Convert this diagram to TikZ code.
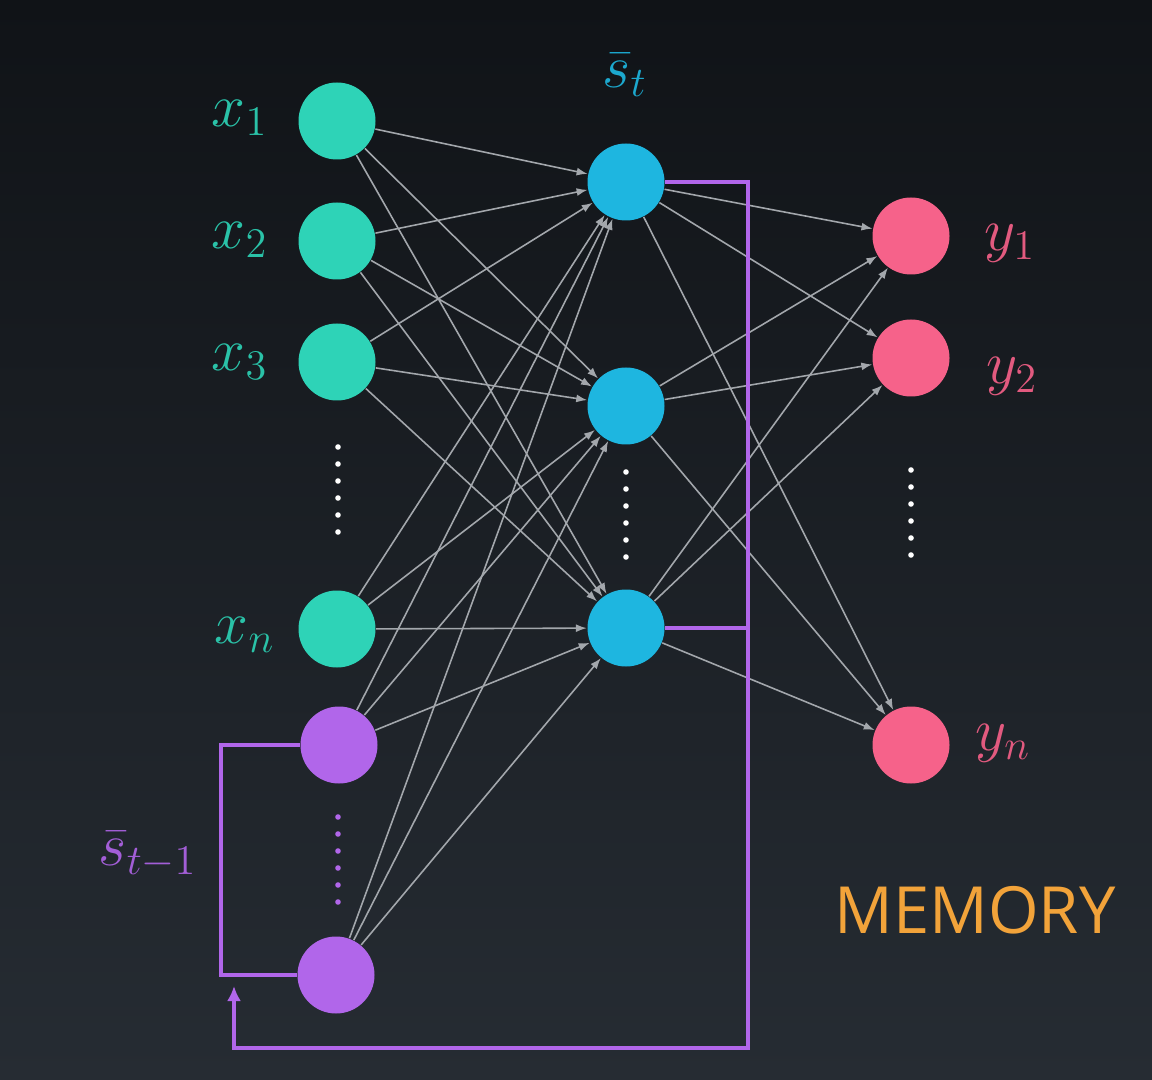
\documentclass[tikz,border=0pt]{standalone}
\usepackage{fontspec}
\newfontfamily\memfont{Open Sans}
\usetikzlibrary{arrows.meta,positioning}
\definecolor{bgtop}{HTML}{101317}
\definecolor{bgbot}{HTML}{262C33}
\definecolor{ingreen}{HTML}{2ED3B7}
\definecolor{hidblue}{HTML}{1EB6E0}
\definecolor{outpink}{HTML}{F6628A}
\definecolor{mempurple}{HTML}{B166EA}
\definecolor{memorange}{HTML}{F2A33A}
\definecolor{wire}{HTML}{A3A7AC}
\tikzset{
  inunit/.style={circle,fill=ingreen,minimum size=0.77cm,inner sep=0pt},
  hidunit/.style={circle,fill=hidblue,minimum size=0.77cm,inner sep=0pt},
  outunit/.style={circle,fill=outpink,minimum size=0.77cm,inner sep=0pt},
  memunit/.style={circle,fill=mempurple,minimum size=0.77cm,inner sep=0pt},
  unitlabel/.style={font=\fontsize{17}{20}\selectfont},
  wirear/.style={-{Latex[length=1.1mm,width=0.8mm]},line width=0.45pt,draw=wire},
  loopline/.style={line width=1.15pt,draw=mempurple},
  looparrow/.style={-{Latex[length=1.5mm,width=1.4mm]},line width=1.15pt,draw=mempurple}
}

\begin{document}
\begin{tikzpicture}
  \fill[top color=bgtop,bottom color=bgbot] (0,0) rectangle (11.52,-10.8);
  \useasboundingbox (0,0) rectangle (11.52,-10.8);

  % units
  \node[inunit]  (x1) at (3.37, -1.21) {};
  \node[inunit]  (x2) at (3.37, -2.41) {};
  \node[inunit]  (x3) at (3.37, -3.62) {};
  \node[inunit]  (xn) at (3.37, -6.29) {};
  \node[memunit] (m1) at (3.39, -7.45) {};
  \node[memunit] (m2) at (3.36, -9.75) {};

  \node[hidunit] (s1) at (6.26, -1.82) {};
  \node[hidunit] (s2) at (6.26, -4.06) {};
  \node[hidunit] (s3) at (6.26, -6.28) {};

  \node[outunit] (y1) at (9.11, -2.36) {};
  \node[outunit] (y2) at (9.11, -3.58) {};
  \node[outunit] (yn) at (9.11, -7.45) {};

  % labels
  \node[unitlabel,text=ingreen!92!black]    (lx1) at (2.40, -1.18) {$x_1$};
  \node[unitlabel,text=ingreen!92!black]    (lx2) at (2.40, -2.40) {$x_2$};
  \node[unitlabel,text=ingreen!92!black]    (lx3) at (2.40, -3.62) {$x_3$};
  \node[unitlabel,text=ingreen!92!black]    (lxn) at (2.45, -6.35) {$x_n$};
  \node[unitlabel,text=hidblue!92!black]    (lst) at (6.25, -0.75) {$\bar{s}_t$};
  \node[unitlabel,text=outpink!92!black]    (ly1) at (10.10, -2.43) {$y_1$};
  \node[unitlabel,text=outpink!92!black]    (ly2) at (10.12, -3.76) {$y_2$};
  \node[unitlabel,text=outpink!92!black]    (lyn) at (10.03, -7.43) {$y_n$};
  \node[unitlabel,text=mempurple!92!black]  (lsp) at (1.48, -8.55) {$\bar{s}_{t-1}$};
  \node[font=\memfont\fontsize{18.5}{22}\selectfont,text=memorange] (mem) at (9.75, -9.10) {MEMORY};

  % dots
  \foreach \k in {0,...,5} {
    \fill[white] (3.38, -4.47-0.17*\k) circle (0.028);
    \fill[white] (6.26, -4.72-0.17*\k) circle (0.028);
    \fill[white] (9.11, -4.70-0.17*\k) circle (0.028);
    \fill[mempurple] (3.38, -8.17-0.17*\k) circle (0.028);
  }

  % input to hidden
  \draw[wirear] (x1) -- (s1);
  \draw[wirear] (x1) -- (s2);
  \draw[wirear] (x1) -- (s3);
  \draw[wirear] (x2) -- (s1);
  \draw[wirear] (x2) -- (s2);
  \draw[wirear] (x2) -- (s3);
  \draw[wirear] (x3) -- (s1);
  \draw[wirear] (x3) -- (s2);
  \draw[wirear] (x3) -- (s3);
  \draw[wirear] (xn) -- (s1);
  \draw[wirear] (xn) -- (s2);
  \draw[wirear] (xn) -- (s3);
  \draw[wirear] (m1) -- (s1);
  \draw[wirear] (m1) -- (s2);
  \draw[wirear] (m1) -- (s3);
  \draw[wirear] (m2) -- (s1);
  \draw[wirear] (m2) -- (s2);
  \draw[wirear] (m2) -- (s3);

  % hidden to output
  \draw[wirear] (s1) -- (y1);
  \draw[wirear] (s1) -- (y2);
  \draw[wirear] (s1) -- (yn);
  \draw[wirear] (s2) -- (y1);
  \draw[wirear] (s2) -- (y2);
  \draw[wirear] (s2) -- (yn);
  \draw[wirear] (s3) -- (y1);
  \draw[wirear] (s3) -- (y2);
  \draw[wirear] (s3) -- (yn);

  % memory feedback
  \coordinate (fbcorner) at (7.48, -10.48);
  \coordinate (fbend)    at (2.34, -9.86);
  \draw[looparrow] (s1.east) -| (fbcorner) -| (fbend);
  \draw[loopline] (s3.east) -- (s3.east -| fbcorner);
  \draw[loopline] (m1.west) -- ++(-0.79, 0) |- (m2.west);
\end{tikzpicture}
\end{document}
